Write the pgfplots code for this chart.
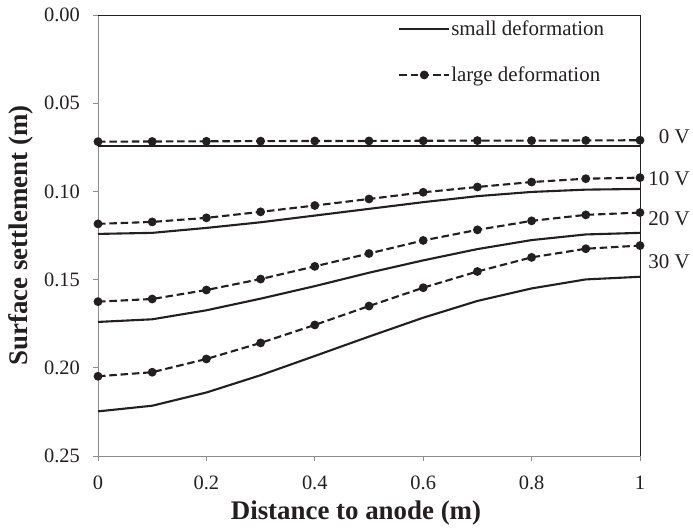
\documentclass[border=0pt]{standalone}
\usepackage{fontspec}
\setmainfont{Liberation Serif}
\usepackage{pgfplots}
\pgfplotsset{compat=1.18}
\definecolor{ink}{RGB}{35,31,32}
\definecolor{axgray}{RGB}{140,140,140}

% surface settlement along the line from the anode, per applied voltage
\pgfplotstableread{
x     s0     l0      s10    l10    s20    l20    s30    l30
0.0   0.0741 0.0718  0.1241 0.1184 0.1740 0.1625 0.2247 0.2048
0.1   0.0741 0.0717  0.1235 0.1173 0.1725 0.1610 0.2215 0.2025
0.2   0.0741 0.0716  0.1207 0.1150 0.1674 0.1559 0.2140 0.1950
0.3   0.0741 0.0715  0.1175 0.1116 0.1608 0.1497 0.2042 0.1859
0.4   0.0741 0.0714  0.1137 0.1080 0.1537 0.1425 0.1933 0.1757
0.5   0.0741 0.0714  0.1099 0.1043 0.1461 0.1352 0.1823 0.1650
0.6   0.0741 0.0713  0.1061 0.1005 0.1391 0.1278 0.1716 0.1546
0.7   0.0741 0.0712  0.1027 0.0975 0.1327 0.1218 0.1621 0.1454
0.8   0.0741 0.0712  0.1003 0.0947 0.1276 0.1167 0.1550 0.1374
0.9   0.0741 0.0711  0.0990 0.0928 0.1244 0.1133 0.1499 0.1325
1.0   0.0741 0.0710  0.0986 0.0922 0.1235 0.1120 0.1484 0.1307
}\settle

\pgfplotsset{
  small/.style={ink, line width=2.1bp, no marks},
  large/.style={ink, line width=2.1bp, dash pattern=on 7.5bp off 3.8bp,
    mark=*, mark size=3.3bp, mark options={solid, fill=ink, draw=ink}},
}

\begin{document}
\begin{tikzpicture}
\useasboundingbox (0,0) rectangle (693bp,528bp);
\begin{axis}[
  at={(98bp,72bp)}, anchor=south west,
  width=542bp, height=441bp, scale only axis,
  xmin=0, xmax=1, ymin=0, ymax=0.25, y dir=reverse,
  xtick={0,0.2,0.4,0.6,0.8,1},
  xticklabels={0,0.2,0.4,0.6,0.8,1},
  ytick={0,0.05,0.1,0.15,0.2,0.25},
  yticklabels={0.00,0.05,0.10,0.15,0.20,0.25},
  tick pos=left, tick align=outside,
  major tick length=5bp,
  tick style={axgray, line width=0.9bp},
  axis line style={draw=none},
  ticklabel style={font=\fontsize{20.5}{24}\selectfont, text=ink, inner sep=0pt},
  xticklabel style={anchor=north, yshift=-15bp},
  yticklabel style={anchor=east, xshift=-13bp},
  /pgf/number format/assume math mode=true,
  xlabel={Distance to anode (m)},
  ylabel={Surface settlement (m)},
  every axis x label/.style={at={(axis description cs:0.476,-0.129)}, anchor=center,
    font=\bfseries\fontsize{27}{30}\selectfont, text=ink},
  every axis y label/.style={at={(axis description cs:-0.142,0.5)}, rotate=90, anchor=center,
    font=\bfseries\fontsize{27}{30}\selectfont, text=ink},
  clip=false,
  legend cell align=left,
  legend style={draw=none, fill=none, inner sep=0pt,
    at={(0.5535,0.990)}, anchor=north west,
    font=\fontsize{21}{24}\selectfont, text=ink, row sep=28bp,
    nodes={inner sep=1bp},
    /tikz/every even column/.append style={column sep=7bp}},
  legend image code/.code={
    \draw[mark repeat=2, mark phase=2, #1]
      plot coordinates {(0bp,0bp) (25bp,0bp) (50bp,0bp)};},
]
% plot frame: grey axes on the left and bottom, dark border on top and right
\draw[axgray, line width=0.9bp] (axis description cs:0,1) -- (axis description cs:0,0) -- (axis description cs:1,0);
\draw[ink, line width=0.9bp] (axis description cs:0,1) -- (axis description cs:1,1) -- (axis description cs:1,0);

\addplot[small] table[x=x, y=s0] {\settle};
\addlegendentry{small deformation}
\addplot[large] table[x=x, y=l0] {\settle};
\addlegendentry{large deformation}
\addplot[small, forget plot] table[x=x, y=s10] {\settle};
\addplot[large, forget plot] table[x=x, y=l10] {\settle};
\addplot[small, forget plot] table[x=x, y=s20] {\settle};
\addplot[large, forget plot] table[x=x, y=l20] {\settle};
\addplot[small, forget plot] table[x=x, y=s30] {\settle};
\addplot[large, forget plot] table[x=x, y=l30] {\settle};

\begin{scope}[every node/.style={anchor=east, font=\fontsize{21}{24}\selectfont, text=ink, inner sep=0pt}]
\node at (axis cs:1.092,0.0690) {0 V};
\node at (axis cs:1.092,0.0926) {10 V};
\node at (axis cs:1.092,0.1152) {20 V};
\node at (axis cs:1.092,0.1399) {30 V};
\end{scope}
\end{axis}
\end{tikzpicture}
\end{document}
